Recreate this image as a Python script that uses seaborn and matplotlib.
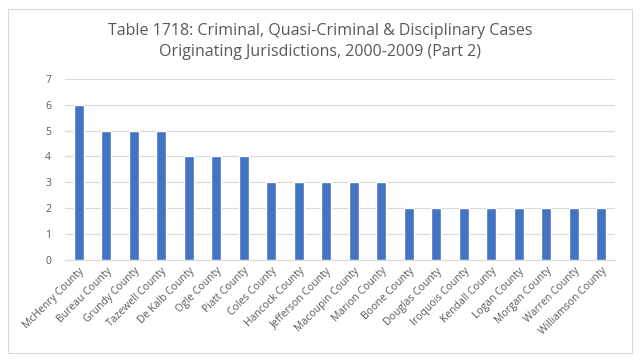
import matplotlib
matplotlib.use('Agg')
import matplotlib.pyplot as plt
import seaborn as sns
import pandas as pd

counties = ['McHenry County', 'Bureau County', 'Grundy County', 'Tazewell County',
            'De Kalb County', 'Ogle County', 'Piatt County', 'Coles County',
            'Hancock County', 'Jefferson County', 'Macoupin County', 'Marion County',
            'Boone County', 'Douglas County', 'Iroquois County', 'Kendall County',
            'Logan County', 'Morgan County', 'Warren County', 'Williamson County']
cases = [6, 5, 5, 5, 4, 4, 4, 3, 3, 3, 3, 3, 2, 2, 2, 2, 2, 2, 2, 2]

df = pd.DataFrame({'county': counties, 'cases': cases})

sns.set_style('white')
plt.rcParams['font.family'] = ['Open Sans', 'DejaVu Sans']

fig = plt.figure(figsize=(6.4, 3.62), dpi=100)
ax = fig.add_axes([0.1016, 0.282, 0.8594, 0.50])

sns.barplot(data=df, x='county', y='cases', color='#4472C4', saturation=1,
            width=0.36, ax=ax)

ax.set_ylim(0, 7)
ax.set_yticks(range(0, 8))
ax.yaxis.grid(True, color='#D9D9D9', linewidth=0.8)
ax.set_axisbelow(True)
for s in ['top', 'right', 'left']:
    ax.spines[s].set_visible(False)
ax.spines['bottom'].set_color('#D9D9D9')
ax.set_xlabel('')
ax.set_ylabel('')
ax.tick_params(axis='both', length=0, colors='#595959', labelsize=7.5)
ax.tick_params(axis='y', pad=10)
ax.tick_params(axis='x', pad=4)
plt.setp(ax.get_xticklabels(), rotation=45, ha='right', rotation_mode='anchor')

fig.text(0.5, 0.915, 'Table 1718: Criminal, Quasi-Criminal & Disciplinary Cases',
         ha='center', va='center', fontsize=11.5, color='#595959')
fig.text(0.5, 0.855, 'Originating Jurisdictions, 2000-2009 (Part 2)',
         ha='center', va='center', fontsize=11.5, color='#595959')

border = plt.Rectangle((0.0125, 0.025), 0.975, 0.95, transform=fig.transFigure,
                       fill=False, edgecolor='#D9D9D9', linewidth=0.8)
fig.patches.append(border)

fig.savefig('out.png', dpi=100)
